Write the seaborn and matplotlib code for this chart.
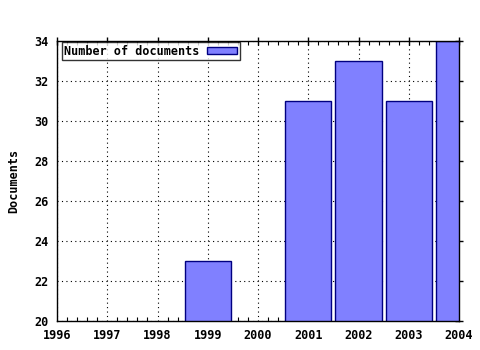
import matplotlib
matplotlib.use("Agg")
import matplotlib.pyplot as plt
import seaborn as sns
import pandas as pd
from matplotlib.ticker import MultipleLocator
from matplotlib.patches import Patch

years = [1999, 2001, 2002, 2003, 2004]
documents = [23, 31, 33, 31, 34]
xticks = list(range(1996, 2005))
yticks = list(range(20, 35, 2))

sns.set_style("white")
plt.rcParams['font.family'] = ['DejaVu Sans Mono']
plt.rcParams['font.weight'] = 'bold'
plt.rcParams['text.color'] = 'black'
plt.rcParams['axes.labelcolor'] = 'black'
plt.rcParams['xtick.color'] = 'black'
plt.rcParams['ytick.color'] = 'black'

df = pd.DataFrame({"year": years, "docs": documents})

fig = plt.figure(figsize=(4.8, 3.5), dpi=100)
ax = fig.add_axes([57/480, 1 - 321/350, (459-57)/480, (321-41)/350])

sns.barplot(data=df, x="year", y="docs", native_scale=True, width=0.92,
            color="#8080ff", saturation=1, edgecolor="#000080", linewidth=1,
            ax=ax, zorder=3)

ax.set_xlim(1996, 2004)
ax.set_ylim(20, 34)
ax.set_xticks(xticks)
ax.set_xticklabels([str(x) for x in xticks])
ax.set_yticks(yticks)
ax.xaxis.set_minor_locator(MultipleLocator(0.2))
ax.tick_params(which="major", direction="inout", length=6, width=1, colors="black",
               labelsize=8.5, top=True, right=True, pad=3)
ax.tick_params(axis="x", which="minor", direction="in", length=3, width=0.8,
               color="black", top=True, bottom=True)
ax.grid(True, which="major", linestyle=(0, (1, 3)), color="black", linewidth=0.8, zorder=0)
ax.set_axisbelow(True)
for s in ax.spines.values():
    s.set_color("black")
    s.set_linewidth(1)
    s.set_zorder(4)

ax.set_xlabel("")
ax.set_ylabel("Documents", fontsize=8.5, fontweight="bold", labelpad=10, color="black")

handle = Patch(facecolor="#8080ff", edgecolor="#000080")
leg = ax.legend([handle], ["Number of documents"], loc="upper left",
                bbox_to_anchor=(0.012, 0.995), frameon=True, fancybox=False,
                fontsize=8.5, handlelength=2.6, handleheight=0.6, borderpad=0.2,
                handletextpad=0.6, markerfirst=False, borderaxespad=0)
leg.get_frame().set_edgecolor("black")
leg.get_frame().set_linewidth(1)
for t in leg.get_texts():
    t.set_fontweight("bold")
    t.set_color("black")

fig.savefig("out.png", dpi=100)
